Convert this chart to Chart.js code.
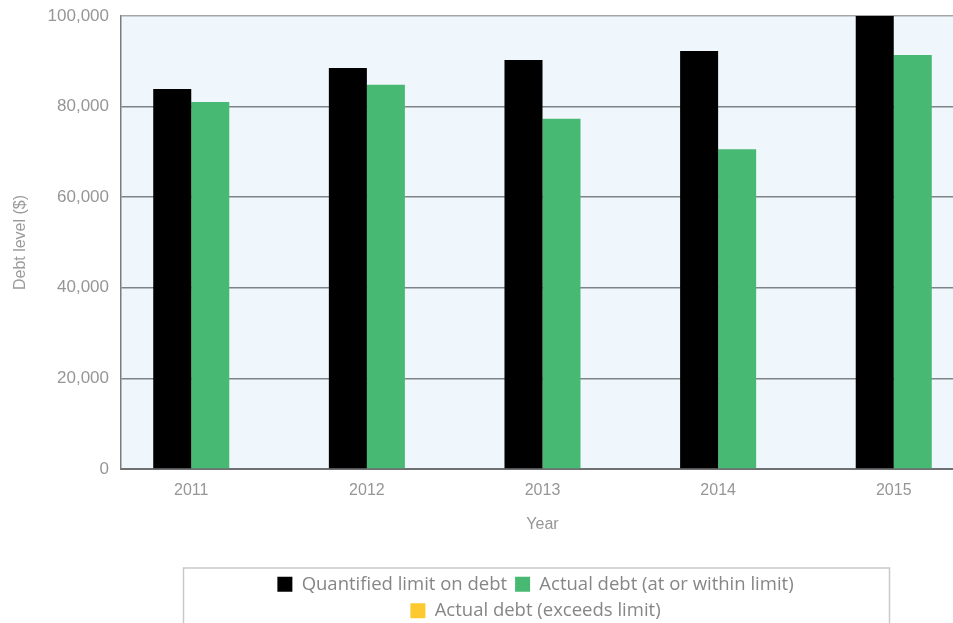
<!DOCTYPE html>
<html>
<head>
<meta charset="utf-8">
<title>Debt level against quantified limit, 2011–2015</title>
<script src="https://cdn.jsdelivr.net/npm/chart.js@4.4.1/dist/chart.umd.min.js"></script>
<style>
  html, body { margin: 0; padding: 0; background: #ffffff; overflow: hidden; }
  #wrap { position: relative; width: 964px; height: 630px; }
</style>
</head>
<body>
<div id="wrap"><canvas id="chart"></canvas></div>
<script>
// Years on the horizontal axis
const years = ['2011', '2012', '2013', '2014', '2015'];

// Debt levels in dollars
const debtLimit   = [83900, 88500, 90300, 92300, 100000];
const debtWithin  = [81000, 84800, 77300, 70600, 91400];
const debtExceeds = [null, null, null, null, null];

// Value axis ticks
const valueTicks = [0, 20000, 40000, 60000, 80000, 100000];

// Series labels and colours
const seriesNames  = ['Quantified limit on debt', 'Actual debt (at or within limit)', 'Actual debt (exceeds limit)'];
const seriesColors = ['#000000', '#48b973', '#fcca2e'];

const toPoints = values => values.map((v, i) => ({ x: i, y: v }));

// Pale fill behind the plotting area
const plotBackground = {
  id: 'plotBackground',
  beforeDraw(chart, args, opts) {
    const { ctx, chartArea: a } = chart;
    ctx.save();
    ctx.fillStyle = opts.color;
    ctx.fillRect(a.left, a.top, a.right - a.left, a.bottom - a.top);
    ctx.restore();
  }
};

// Keeps the legend in a narrower framed box so the entries wrap onto two rows
const legendBox = {
  id: 'legendBox',
  afterInit(chart, args, opts) {
    const legend = chart.legend;
    if (!legend) return;
    const fitRows = legend._fitRows;
    legend._fitRows = function (...rest) {
      const full = this.maxWidth;
      this.maxWidth = Math.min(full, opts.width);
      const h = fitRows.apply(this, rest);
      this.maxWidth = full;
      return h;
    };
  },
  afterLayout(chart, args, opts) {
    const legend = chart.legend;
    const a = chart.chartArea;
    const left = (a.left + a.right - opts.width) / 2 + opts.shift;
    legend.left = left;
    legend.right = left + opts.width;
    legend.width = opts.width;
  },
  afterDraw(chart, args, opts) {
    const legend = chart.legend;
    const ctx = chart.ctx;
    ctx.save();
    ctx.strokeStyle = opts.borderColor;
    ctx.lineWidth = opts.borderWidth;
    ctx.strokeRect(Math.round(legend.left) + 0.5, Math.round(legend.top) + 1, opts.width, chart.height);
    ctx.restore();
  }
};

Chart.defaults.font.family = "'Liberation Sans', Arial, sans-serif";

new Chart(document.getElementById('chart'), {
  type: 'bar',
  data: {
    datasets: [
      { label: seriesNames[0], data: toPoints(debtLimit),   backgroundColor: seriesColors[0] },
      { label: seriesNames[1], data: toPoints(debtWithin),  backgroundColor: seriesColors[1] },
      { label: seriesNames[2], data: toPoints(debtExceeds), backgroundColor: seriesColors[2] }
    ]
  },
  options: {
    responsive: true,
    maintainAspectRatio: false,
    animation: false,
    locale: 'en-US',
    layout: { padding: { top: 16, right: 0, bottom: 0, left: 0 } },
    datasets: {
      bar: {
        skipNull: true,
        borderWidth: 0,
        categoryPercentage: 0.433,
        barPercentage: 1.0
      }
    },
    scales: {
      x: {
        type: 'linear',
        offset: false,
        min: -0.4,
        max: years.length - 0.6,
        afterBuildTicks(scale) {
          scale.ticks = years.map((_, i) => ({ value: i }));
        },
        afterFit(scale) { scale.height = 98; },
        ticks: {
          autoSkip: false,
          maxRotation: 0,
          padding: 12,
          color: '#969696',
          font: { size: 16 },
          callback: value => years[value]
        },
        grid: { display: true, drawOnChartArea: false, drawTicks: false },
        border: { display: true, color: '#6e7073', width: 2 },
        title: {
          display: true,
          text: 'Year',
          color: '#969696',
          font: { size: 16 },
          padding: { top: 0, bottom: 33 }
        }
      },
      y: {
        min: 0,
        max: 100000,
        afterBuildTicks(scale) {
          scale.ticks = valueTicks.map(v => ({ value: v }));
        },
        afterFit(scale) {
          scale.width = 121;
          scale.paddingTop = 0;
        },
        ticks: {
          padding: 12,
          color: '#969696',
          font: { size: 17 },
          callback: value => value.toLocaleString('en-US')
        },
        grid: {
          drawTicks: false,
          lineWidth: 1.5,
          color: ctx => (ctx.tick && ctx.tick.value === 100000) ? '#a4a7aa' : '#808386'
        },
        border: { display: true, color: '#7a7c7f', width: 1.5 },
        title: {
          display: true,
          text: 'Debt level ($)',
          color: '#9a9a9a',
          font: { size: 16 },
          padding: { top: 11, bottom: 0 }
        }
      }
    },
    plugins: {
      plotBackground: { color: '#eff7fd' },
      legendBox: { width: 706, shift: -7, borderColor: '#c9c9c9', borderWidth: 1.5 },
      tooltip: { enabled: false },
      legend: {
        position: 'bottom',
        labels: {
          boxWidth: 15,
          boxHeight: 15,
          padding: 8,
          color: '#868686',
          font: { family: "'Open Sans', 'Liberation Sans', sans-serif", size: 18.5 }
        }
      }
    }
  },
  plugins: [plotBackground, legendBox]
});
</script>
</body>
</html>
